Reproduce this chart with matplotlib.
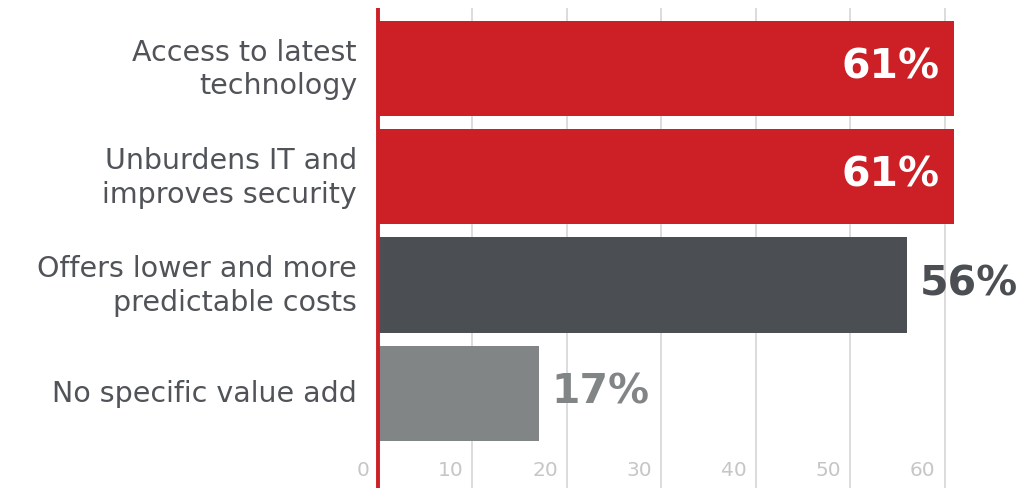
import matplotlib
matplotlib.use("Agg")
import matplotlib.pyplot as plt
import matplotlib.transforms as mtransforms

categories = ["Access to latest\ntechnology",
              "Unburdens IT and\nimproves security",
              "Offers lower and more\npredictable costs",
              "No specific value add"]
values = [61, 61, 56, 17]
value_labels = ["61%", "61%", "56%", "17%"]
inside = [True, True, False, False]
bar_colors = ["#cc1f26", "#cc1f26", "#4b4e53", "#828586"]
label_colors = ["#ffffff", "#ffffff", "#4b4e53", "#828586"]
tick_values = [0, 10, 20, 30, 40, 50, 60]

W, H = 1023, 489
fig = plt.figure(figsize=(W / 100, H / 100), dpi=100)
ax = fig.add_axes([378 / W, 0, 1 - 378 / W, (H - 9) / H])

ypos = list(range(len(categories)))
ax.barh(ypos, values, height=0.88, color=bar_colors, zorder=2)

ax.set_xlim(0, 68.3)
ax.set_ylim(3.874, -0.559)

# vertical gridlines
for t in tick_values[1:]:
    ax.axvline(t, color="#d6d6d6", lw=1.2, zorder=1)
ax.axvline(0, color="#cc1f26", lw=2.8, zorder=3, clip_on=False,
           solid_capstyle="butt")

for s in ax.spines.values():
    s.set_visible(False)
ax.set_xticks([])
ax.set_yticks([])

# tick labels sit inside the plot area, just left of each gridline
shift = mtransforms.offset_copy(ax.transData, fig=fig, x=-9, y=0, units="dots")
for t in tick_values:
    ax.text(t, 3.70, str(t), transform=shift, ha="right", va="center",
            fontsize=14.5, color="#c6c6c6", family="DejaVu Sans")

# category labels
for y, c in zip(ypos, categories):
    ax.annotate(c, xy=(0, y), xycoords="data", xytext=(-21, 0),
                textcoords="offset pixels", ha="right", va="center",
                fontsize=20.5, color="#505358", linespacing=1.25,
                family="DejaVu Sans")

# value labels
for y, v, lab, ins, col in zip(ypos, values, value_labels, inside, label_colors):
    if ins:
        ax.annotate(lab, xy=(v, y), xytext=(-15, 2), textcoords="offset pixels",
                    ha="right", va="center", fontsize=29.5, fontweight="bold",
                    color=col, family="DejaVu Sans", zorder=4)
    else:
        ax.annotate(lab, xy=(v, y), xytext=(13, 2), textcoords="offset pixels",
                    ha="left", va="center", fontsize=29.5, fontweight="bold",
                    color=col, family="DejaVu Sans", zorder=4)

fig.savefig("out.png", dpi=100)
